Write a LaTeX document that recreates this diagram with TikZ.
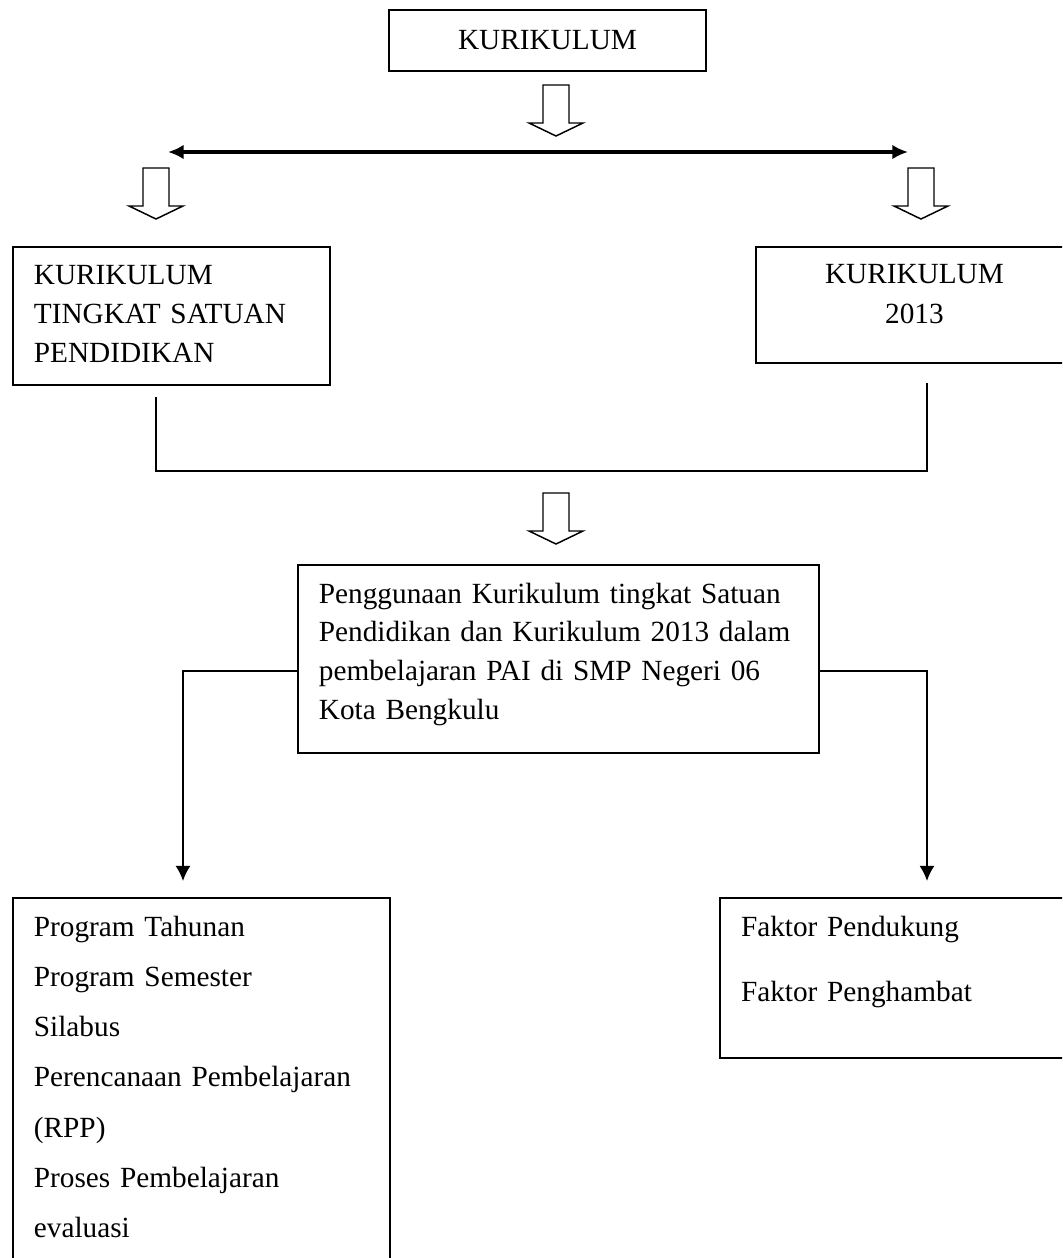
\documentclass[tikz,border=0pt]{standalone}
\usepackage{fontspec}
\setmainfont{Liberation Serif}
\usetikzlibrary{arrows.meta, positioning, calc}

\begin{document}
\begin{tikzpicture}[
      x=0.41pt, y=-0.41pt,
      box/.style={draw, line width=0.8pt, anchor=north west, align=left,
        inner xsep=8.6pt, inner ysep=0pt,
        font=\fontsize{12pt}{16pt}\selectfont},
      link/.style={line width=0.8pt},
      hollow/.pic={
        \draw[line width=0.6pt] (-13,0) -- (-13,38) -- (-27,38) -- (0,51)
          -- (27,38) -- (13,38) -- (13,0) -- cycle;
      },
      >={Latex[length=6.2pt, width=6.2pt]}
    ]
      \useasboundingbox (0,0) rectangle (1062,1258);
      \clip (0,0) rectangle (1062,1258);

      \node[box, anchor=center, align=center, minimum width=130pt,
        minimum height=25pt] (kur) at (547.5,40.5) {KURIKULUM};
      \node[box, text width=112.8pt, text height=15.2pt,
        text depth=41.4pt] (ktsp) at (12,246)
        {KURIKULUM\\TINGKAT SATUAN\\PENDIDIKAN};
      \node[box, right=173.8pt of ktsp.north east, anchor=north west,
        align=center, text width=112.8pt, text height=14.8pt,
        text depth=32.8pt, font=\fontsize{12pt}{16.4pt}\selectfont] (k13)
        {KURIKULUM\\2013};
      \node[box, text width=196.4pt, text height=15.6pt,
        text depth=61.5pt, font=\fontsize{12pt}{15.9pt}\selectfont] (use)
        at (297,564)
        {Penggunaan Kurikulum tingkat Satuan\\Pendidikan dan Kurikulum 2013 dalam\\pembelajaran PAI di SMP Negeri 06\\Kota Bengkulu};
      \node[box, text width=137.4pt, text height=15.6pt,
        text depth=145.6pt, font=\fontsize{12pt}{20.6pt}\selectfont] (docs)
        at (12,897)
        {Program Tahunan\\Program Semester\\Silabus\\Perencanaan Pembelajaran\\(RPP)\\Proses Pembelajaran\\evaluasi};
      \node[box, right=134.5pt of docs.north east, anchor=north west,
        text width=130.4pt, text height=15.6pt, text depth=50pt,
        font=\fontsize{12pt}{26.7pt}\selectfont] (faktor)
        {Faktor Pendukung\\Faktor Penghambat};

      % hollow arrows
      \pic at (556,85) {hollow};
      \pic at (156,168) {hollow};
      \pic at (921,168) {hollow};
      \pic at (556,493) {hollow};

      \coordinate (hl) at (168,152);
      \coordinate (hr) at (908,152);
      \draw[<->, line width=1.4pt, >={Latex[length=6.4pt, width=6pt]}] (hl) -- (hr);

      \coordinate (bl) at (156,397);
      \coordinate (br) at (927,383);
      \draw[link] (bl) -- ++(0,74) -| (br);

      \coordinate (ul) at ($(use.north west)+(0,107)$);
      \coordinate (ur) at ($(use.north east)+(0,107)$);
      \coordinate (dl) at (183,881);
      \coordinate (fr) at (927,881);
      \draw[link, ->] (ul) -| (dl);
      \draw[link, ->] (ur) -| (fr);
    \end{tikzpicture}
\end{document}
